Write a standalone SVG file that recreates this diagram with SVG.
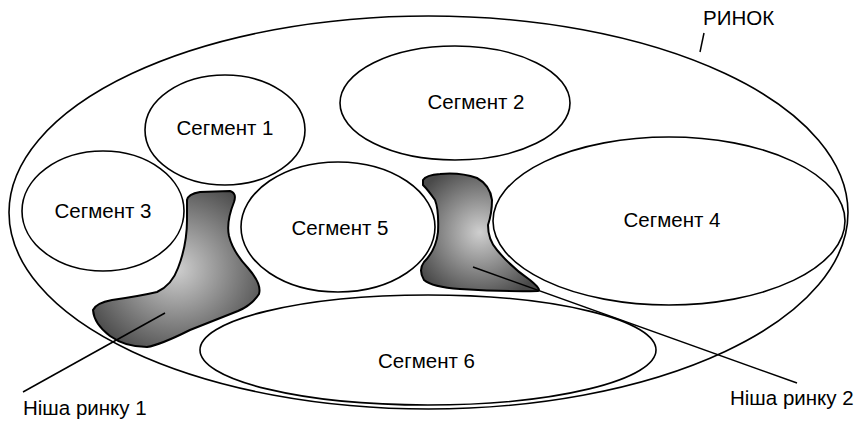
<svg xmlns="http://www.w3.org/2000/svg" width="859" height="437" viewBox="0 0 859 437">
<style>
.e{fill:#fff;stroke:#000;stroke-width:1.6}
.t{font-family:"Liberation Sans",Arial,sans-serif;font-size:20.5px;fill:#000;text-anchor:middle}
.l{font-family:"Liberation Sans",Arial,sans-serif;font-size:20.5px;fill:#000}
.n{fill:url(#g);stroke:#000;stroke-width:2}
.c{stroke:#000;stroke-width:1.5;fill:none}
</style>
<defs>
<radialGradient id="g" cx="0.5" cy="0.5" r="0.6">
<stop offset="0" stop-color="#cfcfcf"/>
<stop offset="1" stop-color="#4a4a4a"/>
</radialGradient>
</defs>
<rect width="859" height="437" fill="#fff"/>
<g id="market">
<ellipse class="e" cx="428.5" cy="212.5" rx="419.5" ry="196.5"/>
<text class="l" x="703" y="25">РИНОК</text>
</g>
<g id="seg1"><ellipse class="e" cx="225" cy="130" rx="80" ry="55"/><text class="t" x="225" y="135">Сегмент 1</text></g>
<g id="seg2"><ellipse class="e" cx="455" cy="103" rx="115" ry="57"/><text class="t" x="476" y="109">Сегмент 2</text></g>
<g id="seg3"><ellipse class="e" cx="103" cy="211" rx="81" ry="60"/><text class="t" x="103" y="218">Сегмент 3</text></g>
<g id="seg4"><ellipse class="e" cx="669" cy="221" rx="176" ry="84"/><text class="t" x="672" y="227">Сегмент 4</text></g>
<g id="seg5"><ellipse class="e" cx="338" cy="227" rx="97" ry="65"/><text class="t" x="340" y="235">Сегмент 5</text></g>
<g id="seg6"><ellipse class="e" cx="428" cy="350" rx="228" ry="55"/><text class="t" x="426.5" y="368">Сегмент 6</text></g>
<g id="niche1">
<path class="n" d="M187,200 Q188,194 200,192 L230,191 Q237,193 234,202 Q226,222 229,236 Q233,252 248,268 Q262,284 259,294 Q252,305 238,311 L190,330 Q160,345 147,347 Q125,347 110,336 Q94,324 93,310 Q96,303 112,300 Q140,296 157,292 Q172,285 178,268 Q187,245 187,220 Z"/>
<text class="l" x="23" y="415">Ніша ринку 1</text>
</g>
<g id="niche2">
<path class="n" d="M423,180 Q426,175 440,174 Q460,172 477,178 Q490,185 492,200 Q492,213 488,225 Q488,240 497,250 Q512,268 530,280 Q542,290 538,291 Q510,292 460,289 Q432,287 424,280 Q418,270 424,262 Q436,250 438,232 Q439,210 435,200 Q428,190 423,185 Z"/>
<text class="l" x="730" y="405">Ніша ринку 2</text>
</g>
<g id="connectors">
<line class="c" x1="704" y1="33" x2="700" y2="52"/>
<line class="c" x1="165" y1="313" x2="23" y2="392"/>
<line class="c" x1="473" y1="267" x2="797" y2="383"/>
</g>
</svg>
